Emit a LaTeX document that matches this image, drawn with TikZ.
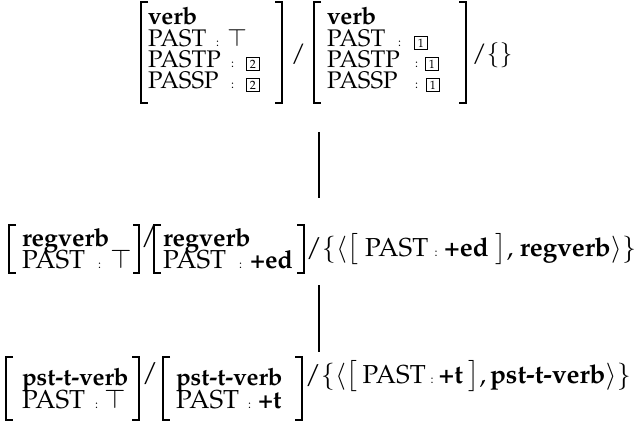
\documentclass[tikz,border=0pt]{standalone}
\usepackage[T1]{fontenc}
\usepackage{mathpazo}
\begin{document}
\begin{tikzpicture}[x=1pt,y=-1pt,
  txs/.style={anchor=base west, inner sep=0pt, outer sep=0pt, font=\fontsize{24}{24}\selectfont},
  bft/.style={anchor=base west, inner sep=0pt, outer sep=0pt, font=\fontsize{24}{24}\selectfont\bfseries},
  txt/.style={anchor=base west, inner sep=0pt, outer sep=0pt, font=\fontsize{26}{26}\selectfont},
  bfs/.style={anchor=base west, inner sep=0pt, outer sep=0pt, font=\fontsize{25}{25}\selectfont\bfseries},
  cln/.style={anchor=base west, inner sep=0pt, outer sep=0pt, font=\fontsize{12}{12}\selectfont},
  tag/.style={draw, line width=0.9pt, minimum size=13pt, inner sep=0pt, anchor=south west, font=\fontsize{12}{12}\selectfont},
  brk/.style={line width=1.4pt},
  conn/.style={line width=2pt}]
\useasboundingbox (0,0) rectangle (635,425);
% ---------- top row ----------
\draw[brk] (148,2) -- (141,2) -- (141,103) -- (148,103);
\node[bft] (v1) at (148,25) {verb};
\node[txs] (p1) at (148,47) {PAST};
\node[cln] (k1) at (216,47) {:};
\node[txs] (t1) at (227,47) {$\top$};
\node[txs] (pp1) at (148,68) {PASTP};
\node[cln] (k2) at (231,68) {:};
\node[tag] (b2a) at (246,71) {2};
\node[txs] (ps1) at (148,89) {PASSP};
\node[cln] (k3) at (231,89) {:};
\node[tag] (b2b) at (246,92) {2};
\draw[brk] (275,2) -- (282,2) -- (282,103) -- (275,103);
\node[txs] (s1) at (291,62) {/};
\draw[brk] (321,2) -- (314,2) -- (314,103) -- (321,103);
\node[bft] (v2) at (327,25) {verb};
\node[txs] (p2) at (327,47) {PAST};
\node[cln] (k4) at (398,47) {:};
\node[tag] (b1a) at (414,50) {1};
\node[txs] (pp2) at (327,68) {PASTP};
\node[cln] (k5) at (415,68) {:};
\node[tag] (b1b) at (425,71) {1};
\node[txs] (ps2) at (327,89) {PASSP};
\node[cln] (k6) at (415,89) {:};
\node[tag] (b1c) at (426,92) {1};
\draw[brk] (459,2) -- (466,2) -- (466,103) -- (459,103);
\node[txs] (e1) at (472,62) {/$\{\}$};
% ---------- middle row ----------
\draw[brk] (16,225) -- (9,225) -- (9,273) -- (16,273);
\node[bfs] (r1) at (22,246) {regverb};
\node[txt] (r1p) at (22,268) {PAST};
\node[cln] (r1k) at (98,268) {:};
\node[txt] (r1t) at (110,268) {$\top$};
\draw[brk] (133,225) -- (139,225) -- (139,273) -- (133,273);
\node[txt] (r1s) at (141,244) {/};
\draw[brk] (161,225) -- (154,225) -- (154,273) -- (161,273);
\node[bfs] (r2) at (163,246) {regverb};
\node[txt] (r2p) at (163,268) {PAST};
\node[cln] (r2k) at (239,268) {:};
\node[bfs] (r2v) at (250,268) {+ed};
\draw[brk] (297,225) -- (304,225) -- (304,273) -- (297,273);
\node[txt] (r3) at (306,256) {/$\{\langle\bigl[$ PAST {\fontsize{12}{12}\selectfont:} \textbf{+ed} $\bigr]$, \textbf{regverb}$\rangle\}$};
% ---------- bottom row ----------
\draw[brk] (13,357) -- (6,357) -- (6,420) -- (13,420);
\node[bft] (q1) at (22,385) {pst-t-verb};
\node[txt] (q1p) at (22,408) {PAST};
\node[cln] (q1k) at (95,408) {:};
\node[txt] (q1t) at (104,408) {$\top$};
\draw[brk] (132,357) -- (139,357) -- (139,420) -- (132,420);
\node[txt] (q1s) at (142,381) {/};
\draw[brk] (170,357) -- (163,357) -- (163,420) -- (170,420);
\node[bft] (q2) at (176,385) {pst-t-verb};
\node[txt] (q2p) at (176,408) {PAST};
\node[cln] (q2k) at (248,408) {:};
\node[bfs] (q2v) at (258,408) {+t};
\draw[brk] (295,357) -- (302,357) -- (302,420) -- (295,420);
\node[txt] (q3) at (305,383) {/$\{\langle\bigl[$\hspace{5pt}PAST\hspace{5pt}{\fontsize{12}{12}\selectfont:}\hspace{5pt}\textbf{+t}\hspace{5pt}$\bigr]$,\hspace{4pt}\textbf{pst-t-verb}$\rangle\}$};
% ---------- connectors ----------
\coordinate (c1a) at (319,132);
\coordinate (c1b) at (319,198);
\coordinate (c2a) at (319,285);
\coordinate (c2b) at (319,352);
\draw[conn] (c1a) -- (c1b);
\draw[conn] (c2a) -- (c2b);
\end{tikzpicture}
\end{document}
